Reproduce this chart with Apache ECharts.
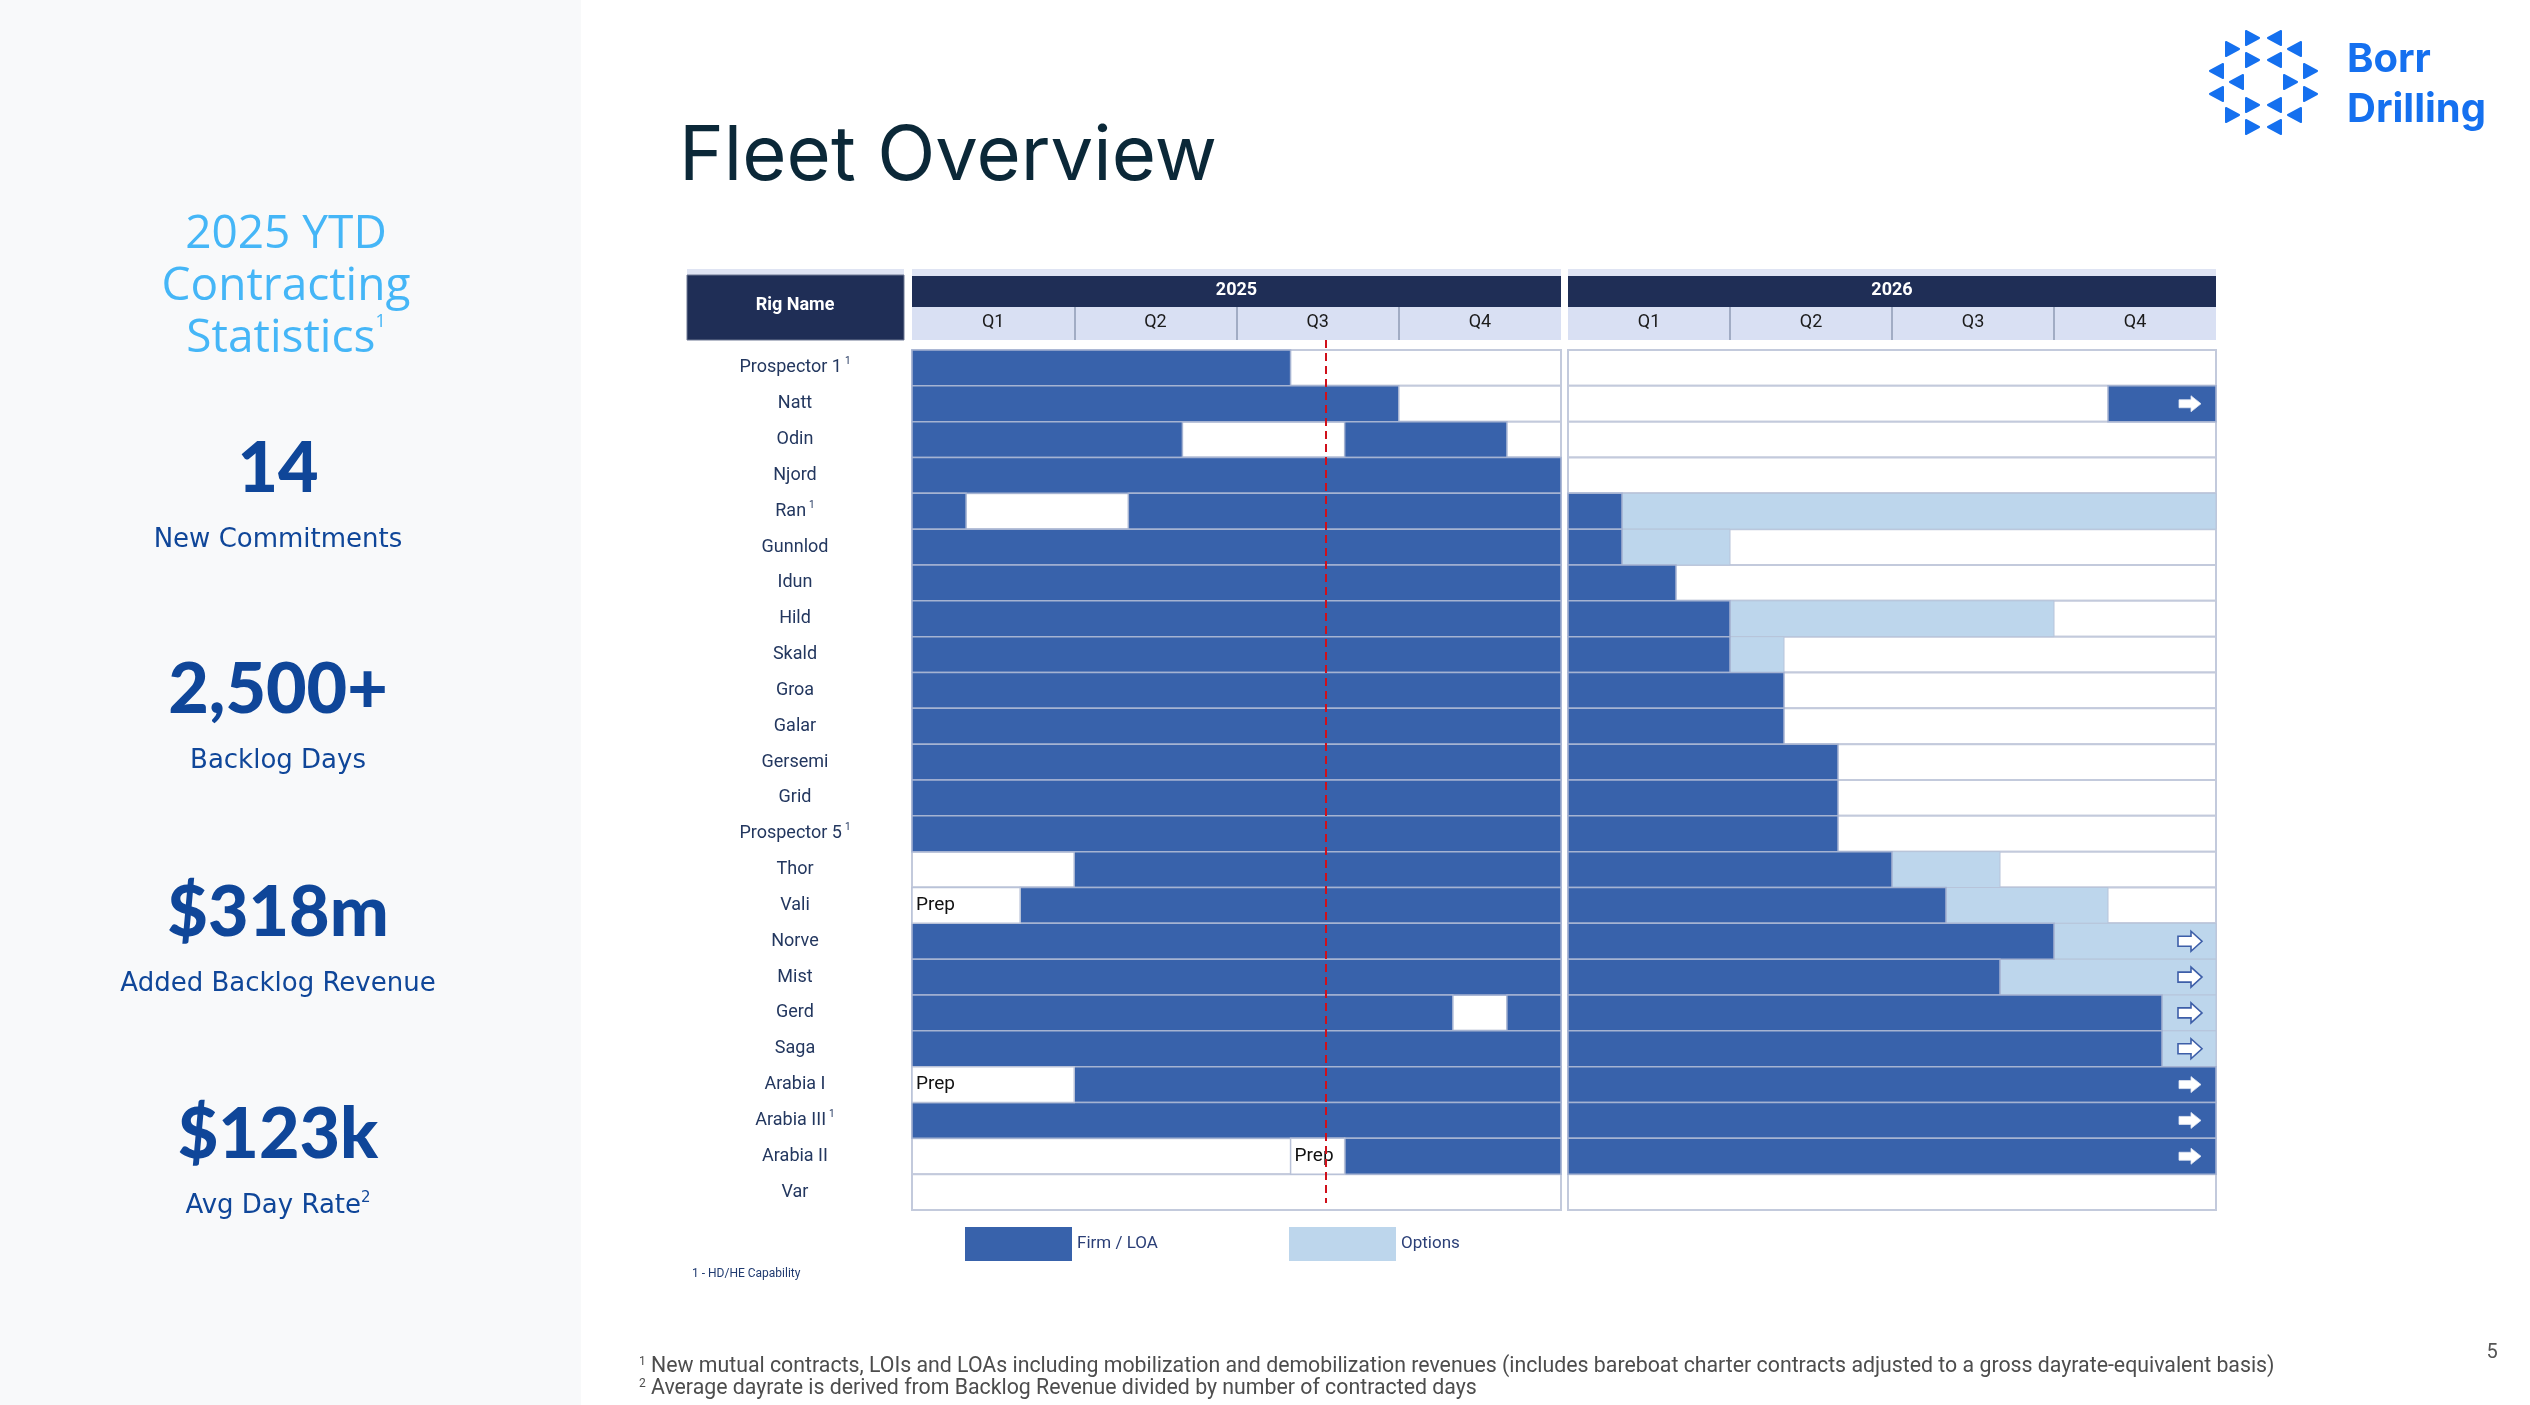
<!DOCTYPE html>
<html>
<head>
<meta charset="utf-8">
<script src="https://cdn.jsdelivr.net/npm/echarts@6/dist/echarts.min.js"></script>
<style>
html,body{margin:0;padding:0;background:#fff;}
#chart{width:2530px;height:1405px;}
</style>
</head>
<body>
<div id="chart"></div>
<script>
// ---------- DATA ----------
const rigs = ['Prospector 1','Natt','Odin','Njord','Ran','Gunnlod','Idun','Hild','Skald','Groa','Galar','Gersemi','Grid','Prospector 5','Thor','Vali','Norve','Mist','Gerd','Saga','Arabia I','Arabia III','Arabia II','Var'];
const hdheRigs = ['Prospector 1','Ran','Prospector 5','Arabia III'];
const years = ['2025','2026'];
const quarterLabels = ['Q1','Q2','Q3','Q4'];
const todayMonth = 7.65; // months since Jan 2025
// [rig, start month, end month] counted from Jan 2025 (0..24)
const firmSegments = [
  ['Prospector 1',0,7],
  ['Natt',0,9],['Natt',22,24],
  ['Odin',0,5],['Odin',8,11],
  ['Njord',0,12],
  ['Ran',0,1],['Ran',4,13],
  ['Gunnlod',0,13],
  ['Idun',0,14],
  ['Hild',0,15],
  ['Skald',0,15],
  ['Groa',0,16],
  ['Galar',0,16],
  ['Gersemi',0,17],
  ['Grid',0,17],
  ['Prospector 5',0,17],
  ['Thor',3,18],
  ['Vali',2,19],
  ['Norve',0,21],
  ['Mist',0,20],
  ['Gerd',0,10],['Gerd',11,23],
  ['Saga',0,23],
  ['Arabia I',3,24],
  ['Arabia III',0,24],
  ['Arabia II',8,24]
];
const optionSegments = [
  ['Ran',13,24],
  ['Gunnlod',13,15],
  ['Hild',15,21],
  ['Skald',15,16],
  ['Thor',18,20],
  ['Vali',19,22],
  ['Norve',21,24],
  ['Mist',20,24],
  ['Gerd',23,24],
  ['Saga',23,24]
];
const prepSegments = [
  ['Vali',0,2],
  ['Arabia I',0,3],
  ['Arabia II',7,8]
];
const firmArrowRigs = ['Natt','Arabia I','Arabia III','Arabia II'];
const optionArrowRigs = ['Norve','Mist','Gerd','Saga'];

const stats = [
  {value:'14', label:'New Commitments'},
  {value:'2,500+', label:'Backlog Days'},
  {value:'$318m', label:'Added Backlog Revenue'},
  {value:'$123k', label:'Avg Day Rate', sup:'2'}
];
const footnotes = [
  ['1','New mutual contracts, LOIs and LOAs including mobilization and demobilization revenues (includes bareboat charter contracts adjusted to a gross dayrate-equivalent basis)'],
  ['2','Average dayrate is derived from Backlog Revenue divided by number of contracted days']
];

// ---------- STYLE ----------
const FIRM = '#3862ab', OPT = '#bdd6ec', NAVY = '#1f2e56', BAND = '#d9e0f3', CELL = '#c3cadc';
const FONT = 'Roboto';

function splitFor(segs, g){
  const lo = g*12, hi = lo+12;
  return segs.filter(s => s[1] < hi && s[2] > lo)
    .map(s => [Math.max(s[1],lo)-lo, Math.min(s[2],hi)-lo, rigs.indexOf(s[0])]);
}
function rectItem(api, fill, stroke, lw){
  const s = api.coord([api.value(0), api.value(2)]);
  const e = api.coord([api.value(1), api.value(2)]);
  const h = api.size([0,1])[1];
  return {type:'rect', shape:{x:s[0], y:s[1]-h/2, width:e[0]-s[0], height:h},
    style:{fill:fill, stroke:stroke, lineWidth:lw}};
}

const chart = echarts.init(document.getElementById('chart'), null, {renderer:'canvas'});

const grids = [
  {left:912, top:350, width:649, height:860},
  {left:1568, top:350, width:648, height:860}
];

const xAxes = [], yAxes = [], series = [];
[0,1].forEach(g => {
  xAxes.push({
    gridIndex:g, type:'value', min:0, max:12, position:'top', offset:10, z:5,
    axisLine:{show:false}, splitLine:{show:false},
    axisTick:{show:true, customValues:[3,6,9], length:33, lineStyle:{color:'#8f9ab5', width:1.5}},
    axisLabel:{customValues:[1.5,4.5,7.5,10.5], formatter:v => quarterLabels[Math.floor(v/3)],
      margin:9, fontSize:18, color:'#1b1b1b', fontFamily:FONT}
  });
  xAxes.push({
    gridIndex:g, type:'value', min:0, max:12, position:'top', offset:43, z:5,
    axisLine:{show:false}, splitLine:{show:false}, axisTick:{show:false},
    axisLabel:{customValues:[6], formatter:() => years[g], margin:8, fontSize:18,
      fontWeight:'bold', color:'#ffffff', fontFamily:FONT}
  });
  yAxes.push({
    gridIndex:g, type:'category', data:rigs, inverse:true,
    axisLine:{show:false}, axisTick:{show:false}, splitLine:{show:false},
    axisLabel: g === 0 ? {
      show:true, align:'center', margin:117,
      formatter: v => hdheRigs.includes(v) ? '{n|' + v + '}{s|1}' : '{n|' + v + '}',
      rich:{n:{fontSize:18, color:'#23375f', fontFamily:FONT, lineHeight:22},
            s:{fontSize:10, color:'#23375f', fontFamily:FONT, verticalAlign:'top', lineHeight:22, padding:[0,0,8,3]}}
    } : {show:false}
  });
  const xi = g*2;
  series.push({
    type:'custom', name:'rows'+g, xAxisIndex:xi, yAxisIndex:g, z:1, silent:true,
    encode:{x:[0,1], y:2},
    data: rigs.map((r,i) => [0,12,i]),
    renderItem:(p,api) => rectItem(api, '#ffffff', CELL, 2)
  });
  series.push({
    type:'custom', name:'Options', xAxisIndex:xi, yAxisIndex:g, z:2,
    itemStyle:{color:OPT}, encode:{x:[0,1], y:2},
    data: splitFor(optionSegments, g),
    renderItem:(p,api) => rectItem(api, OPT, '#b7c4da', 1)
  });
  series.push({
    type:'custom', name:'Firm / LOA', xAxisIndex:xi, yAxisIndex:g, z:3,
    itemStyle:{color:FIRM}, encode:{x:[0,1], y:2},
    data: splitFor(firmSegments, g),
    renderItem:(p,api) => rectItem(api, FIRM, '#a5b3d2', 1.5)
  });
  series.push({
    type:'custom', name:'prep'+g, xAxisIndex:xi, yAxisIndex:g, z:4,
    encode:{x:[0,1], y:2},
    data: splitFor(prepSegments, g),
    renderItem:(p,api) => {
      const r = rectItem(api, '#ffffff', '#b9c2d8', 1.5);
      return {type:'group', children:[r,
        {type:'text', x:r.shape.x+4, y:r.shape.y+r.shape.height/2,
         style:{text:'Prep', fontSize:19, fill:'#111', fontFamily:FONT, verticalAlign:'middle', align:'left'}}]};
    }
  });
});

// arrows beyond 2026 (grid 1)
series.push({
  type:'custom', name:'arrows', xAxisIndex:2, yAxisIndex:1, z:5, encode:{x:0, y:1},
  data: firmArrowRigs.map(r => [12, rigs.indexOf(r), 0]).concat(optionArrowRigs.map(r => [12, rigs.indexOf(r), 1])),
  renderItem:(p,api) => {
    const c = api.coord([api.value(0), api.value(1)]);
    const cx = c[0]-26, cy = c[1];
    if (api.value(2) === 0) {
      return {type:'polygon', shape:{points:[[cx-11,cy-4],[cx+1,cy-4],[cx+1,cy-8],[cx+11,cy],[cx+1,cy+8],[cx+1,cy+4],[cx-11,cy+4]]},
        style:{fill:'#ffffff', stroke:'#dfe6f3', lineWidth:0.8}};
    }
    return {type:'polygon', shape:{points:[[cx-12,cy-5],[cx+1,cy-5],[cx+1,cy-10],[cx+12,cy],[cx+1,cy+10],[cx+1,cy+5],[cx-12,cy+5]]},
      style:{fill:'#ffffff', stroke:'#3d5ea8', lineWidth:1.6}};
  }
});
// today marker
series.push({
  type:'line', name:'today', xAxisIndex:0, yAxisIndex:0, z:6, data:[], symbol:'none',
  markLine:{silent:true, symbol:['none','none'], label:{show:false},
    lineStyle:{color:'#d0101a', type:[8,5], width:2},
    data:[[{xAxis:todayMonth, y:340}, {xAxis:todayMonth, y:1203}]]}
});

// ---------- GRAPHICS (layout) ----------
const graphic = [
  {type:'rect', z:-10, shape:{x:0,y:0,width:581,height:1405}, style:{fill:'#f8f9fa'}},
  {type:'text', x:679, y:157, style:{text:'Fleet Overview', fontSize:76, fontFamily:'Inter', fill:'#0b2838', verticalAlign:'middle'}},
  // header boxes
  {type:'rect', z:0, shape:{x:687,y:269,width:217,height:7}, style:{fill:'#dfe4f3'}},
  {type:'rect', z:0, shape:{x:687,y:275,width:217,height:65}, style:{fill:NAVY, stroke:'#6e7893', lineWidth:1}},
  {type:'text', z:1, x:795, y:305, style:{text:'Rig Name', fontSize:18, fontWeight:'bold', fill:'#fff', fontFamily:FONT, align:'center', verticalAlign:'middle'}},
];
grids.forEach(gr => {
  graphic.push({type:'rect', z:0, shape:{x:gr.left,y:269,width:gr.width,height:7}, style:{fill:'#dfe4f3'}});
  graphic.push({type:'rect', z:0, shape:{x:gr.left,y:276,width:gr.width,height:31}, style:{fill:NAVY}});
  graphic.push({type:'rect', z:0, shape:{x:gr.left,y:307,width:gr.width,height:33}, style:{fill:BAND}});
});
// logo
const tri = [[2252,38,1],[2275,38,-1],[2232,49,1],[2295,49,-1],[2252,60,1],[2275,60,-1],[2217,71,-1],[2310,71,1],[2237,82,-1],[2290,82,1],[2217,94,-1],[2310,94,1],[2252,105,1],[2275,105,-1],[2232,115,1],[2295,115,-1],[2252,127,1],[2275,127,-1]];
tri.forEach(t => {
  const [x,y,d] = t;
  graphic.push({type:'polygon', shape:{points:[[x-6*d,y-7],[x+7*d,y],[x-6*d,y+7]]}, style:{fill:'#1570ef', lineJoin:'round', stroke:'#1570ef', lineWidth:2}});
});
graphic.push({type:'text', x:2347, y:60, style:{text:'Borr', fontSize:40, fontWeight:'bold', fontFamily:'Inter', fill:'#1570ef', verticalAlign:'middle'}});
graphic.push({type:'text', x:2347, y:110, style:{text:'Drilling', fontSize:40, fontWeight:'bold', fontFamily:'Inter', fill:'#1570ef', verticalAlign:'middle'}});
// left stats
graphic.push({type:'text', x:286, y:287, style:{
  text:'{t|2025 YTD}\n{t|Contracting}\n{t|Statistics}{s|1}',
  rich:{t:{fontSize:46, fontFamily:'Open Sans', fill:'#45b6f7', lineHeight:52}, s:{fontSize:18, fontFamily:'Open Sans', fill:'#45b6f7', verticalAlign:'top', lineHeight:52, padding:[0,0,22,0]}},
  align:'center', verticalAlign:'middle'}});
const statY = [469, 690, 913, 1135];
stats.forEach((st,i) => {
  graphic.push({type:'text', x:278, y:statY[i], style:{text:st.value, fontSize:70, fontWeight:900, fontFamily:'Lato', fill:'#0f4699', align:'center', verticalAlign:'middle'}});
  graphic.push({type:'text', x:278, y:statY[i]+71, style:{
    text:'{t|' + st.label + '}' + (st.sup ? '{s|' + st.sup + '}' : ''),
    rich:{t:{fontSize:26, fontFamily:'DejaVu Sans', fill:'#0f4699', lineHeight:30}, s:{fontSize:15, fontFamily:'DejaVu Sans', fill:'#0f4699', verticalAlign:'top', lineHeight:30, padding:[0,0,12,0]}},
    align:'center', verticalAlign:'middle'}});
});
// notes
graphic.push({type:'text', x:692, y:1274, style:{text:'1 - HD/HE Capability', fontSize:12, fontFamily:FONT, fill:'#1f3a70', verticalAlign:'middle'}});
footnotes.forEach((f,i) => {
  graphic.push({type:'text', x:639, y:1367 + i*22, style:{
    text:'{s|' + f[0] + '}{t| ' + f[1] + '}',
    rich:{s:{fontSize:12, fontFamily:FONT, fill:'#4d4d4d', verticalAlign:'top', lineHeight:22, padding:[0,0,8,0]}, t:{fontSize:21.3, fontFamily:FONT, fill:'#4d4d4d', lineHeight:22}},
    verticalAlign:'middle'}});
});
graphic.push({type:'text', x:2492, y:1353, style:{text:'5', fontSize:20, fontFamily:FONT, fill:'#555', align:'center', verticalAlign:'middle'}});

chart.setOption({
  animation:false,
  backgroundColor:'#ffffff',
  grid:grids,
  xAxis:xAxes,
  yAxis:yAxes,
  legend:[
    {data:['Firm / LOA'], left:960, top:1222, icon:'rect', itemWidth:107, itemHeight:34, itemGap:4, selectedMode:false,
     textStyle:{fontSize:17, color:'#2b3f77', fontFamily:FONT}},
    {data:['Options'], left:1284, top:1222, icon:'rect', itemWidth:107, itemHeight:34, itemGap:4, selectedMode:false,
     textStyle:{fontSize:17, color:'#2b3f77', fontFamily:FONT}}
  ],
  graphic:graphic,
  series:series
});
</script>
</body>
</html>
